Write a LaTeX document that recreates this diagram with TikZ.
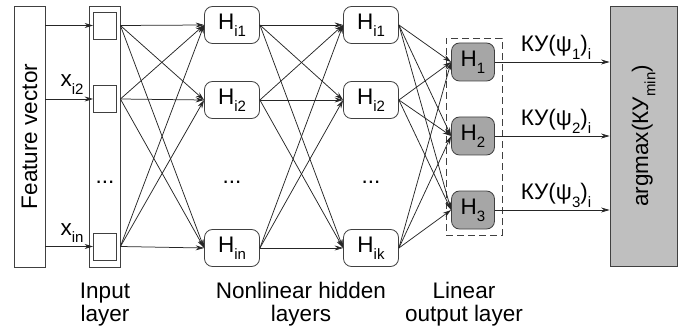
\documentclass[tikz,border=0pt]{standalone}
\usepackage{fontspec}
\setmainfont{Liberation Sans}
\usetikzlibrary{arrows.meta}
% subscript lowered below the baseline, smaller size
\newcommand{\lowsub}[1]{\raisebox{-0.32em}{\fontsize{15}{15}\selectfont #1}}
\begin{document}
\begin{tikzpicture}[x=1pt,y=-1pt,
  every node/.style={font=\fontsize{22.5}{25}\selectfont, inner sep=0pt},
  frame/.style={draw=black!75, line width=0.8pt},
  inbox/.style={frame, minimum width=23pt, minimum height=27pt},
  hbox/.style={frame, rounded corners=8pt, fill=white, minimum width=55pt, minimum height=37pt},
  obox/.style={frame, rounded corners=8pt, fill=black!35, minimum width=43pt, minimum height=38pt},
  link/.style={draw=black!85, line width=0.75pt, -{Stealth[length=8.5pt,width=5pt]}},
  caption/.style={align=center, font=\fontsize{22.5}{23}\selectfont},
  gap/.style={anchor=base}
]
\useasboundingbox (0,0) rectangle (682,331);

% feature vector and input layer
\node[frame, minimum width=31pt, minimum height=261pt] (fv) at (29.5,136.5) {};
\node[rotate=90] at (fv.center) {Feature vector};
\node[frame, minimum width=31pt, minimum height=261pt] (inl) at (104.5,136.5) {};
\node[inbox] (i1) at (105,25.5) {};
\node[inbox] (i2) at (105,99) {};
\node[inbox] (i3) at (105,246.5) {};
\node[gap] at (105,184) {...};

% hidden layers
\node[hbox] (a1) at (232,25) {H\lowsub{i1}};
\node[hbox] (a2) at (232,100) {H\lowsub{i2}};
\node[hbox] (a3) at (232,248) {H\lowsub{in}};
\node[gap] at (232,184) {...};
\node[hbox] (b1) at (371,25) {H\lowsub{i1}};
\node[hbox] (b2) at (371,100) {H\lowsub{i2}};
\node[hbox] (b3) at (371,248) {H\lowsub{ik}};
\node[gap] at (371,184) {...};

% linear output layer
\node[frame, dash pattern=on 7pt off 4pt, minimum width=56pt, minimum height=197pt] (outl) at (474,136.5) {};
\node[obox] (o1) at (473,62) {H\lowsub{1}};
\node[obox] (o2) at (473,136) {H\lowsub{2}};
\node[obox] (o3) at (473,210) {H\lowsub{3}};

% decision block
\node[frame, fill=black!25, minimum width=67pt, minimum height=260pt] (am) at (643.5,136) {};
\node[rotate=90] at (am.center) {argmax(КУ\lowsub{min})};

% feature vector -> input cells
\foreach \k in {1,2,3} \draw[link] (fv.east |- i\k) -- (i\k.west);
\node[anchor=base] at (72,87) {x\lowsub{i2}};
\node[anchor=base] at (72,235) {x\lowsub{in}};

% full connections between layers
\foreach \s in {1,2,3} \foreach \t in {1,2,3} {
  \draw[link] (inl.east |- i\s) -- (a\t.west);
  \draw[link] (a\s.east) -- (b\t.west);
  \draw[link] (b\s.east) -- (o\t.west);
}

% outputs -> decision
\foreach \k in {1,2,3} \draw[link] (o\k.east) -- (am.west |- o\k);
\node[anchor=base] (l1) at (556,52) {КУ(ψ\lowsub{1})\lowsub{i}};
\node[anchor=base] (l2) at (556,126) {КУ(ψ\lowsub{2})\lowsub{i}};
\node[anchor=base] (l3) at (556,200) {КУ(ψ\lowsub{3})\lowsub{i}};

% captions
\node[caption, anchor=base] at (105,321) {Input\\layer};
\node[caption, anchor=base] at (301,321) {Nonlinear hidden\\layers};
\node[caption, anchor=base] at (464,321) {Linear\\output layer};
\end{tikzpicture}
\end{document}
